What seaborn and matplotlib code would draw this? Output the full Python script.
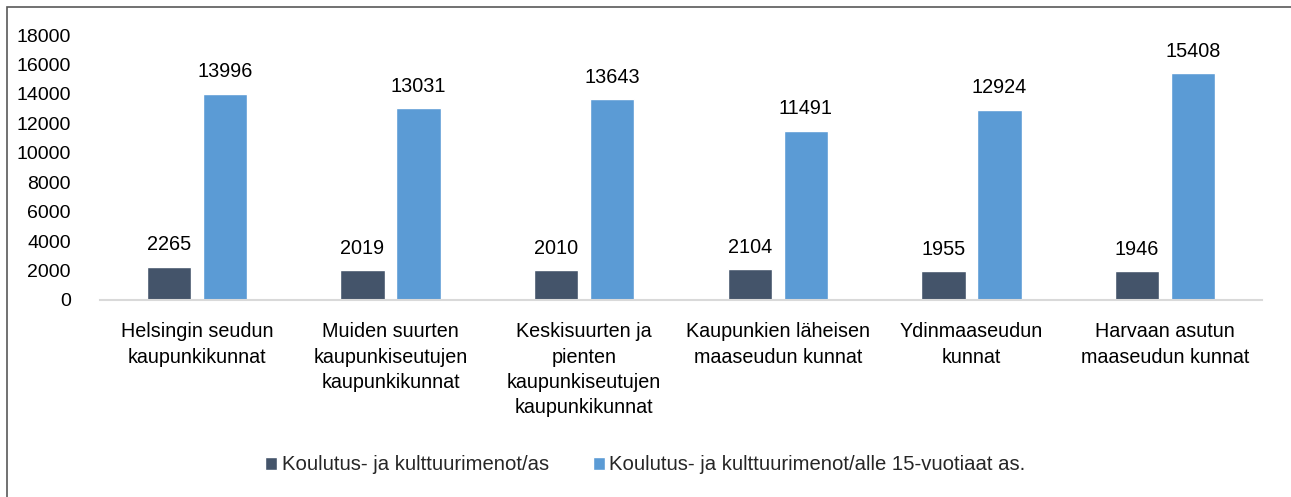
import matplotlib
matplotlib.use("Agg")
import matplotlib.pyplot as plt
import seaborn as sns
import pandas as pd
from matplotlib.patches import Rectangle

categories = [
    "Helsingin seudun\nkaupunkikunnat",
    "Muiden suurten\nkaupunkiseutujen\nkaupunkikunnat",
    "Keskisuurten ja\npienten\nkaupunkiseutujen\nkaupunkikunnat",
    "Kaupunkien läheisen\nmaaseudun kunnat",
    "Ydinmaaseudun\nkunnat",
    "Harvaan asutun\nmaaseudun kunnat",
]
series_names = [
    "Koulutus- ja kulttuurimenot/as",
    "Koulutus- ja kulttuurimenot/alle 15-vuotiaat as.",
]
values_as = [2265, 2019, 2010, 2104, 1955, 1946]
values_u15 = [13996, 13031, 13643, 11491, 12924, 15408]
yticks = [0, 2000, 4000, 6000, 8000, 10000, 12000, 14000, 16000, 18000]

df = pd.DataFrame({
    "cat": categories * 2,
    "series": [series_names[0]] * 6 + [series_names[1]] * 6,
    "value": values_as + values_u15,
})

sns.set_theme(style="white")
plt.rcParams["font.family"] = ["Liberation Sans", "DejaVu Sans"]

W, H = 1291, 497
fig = plt.figure(figsize=(W / 100, H / 100), dpi=100)
ax = fig.add_axes([100 / W, 1 - 300 / H, 1162 / W, 265 / H])

sns.barplot(data=df, x="cat", y="value", hue="series",
            palette=["#44546A", "#5B9BD5"], saturation=1, width=0.58, gap=0.21,
            ax=ax, legend=True)

for cont in ax.containers:
    ax.bar_label(cont, fmt="%d", padding=9, fontsize=14.3, color="#000000")

ax.set_ylim(0, 18000)
ax.set_yticks(yticks)
ax.set_yticklabels([str(t) for t in yticks], fontsize=14, color="#000000")
ax.set_xlim(-0.5, 5.5)
ax.tick_params(axis="x", labelsize=14.2, colors="#000000", pad=16, length=0)
ax.tick_params(axis="y", pad=21, length=0)
for lbl in ax.get_xticklabels():
    lbl.set_linespacing(1.42)
ax.set_xlabel("")
ax.set_ylabel("")
for s in ["top", "right", "left"]:
    ax.spines[s].set_visible(False)
ax.spines["bottom"].set_color("#D9D9D9")
ax.spines["bottom"].set_linewidth(1.5)
ax.grid(False)

handles, labels = ax.get_legend_handles_labels()
ax.legend_.remove()
fig.legend(handles, labels, loc="center", bbox_to_anchor=(0.5, 1 - 465 / H),
           ncol=2, frameon=False, fontsize=14.6, handlelength=0.6, handleheight=0.6,
           handletextpad=0.2, columnspacing=2.2)

fig.add_artist(Rectangle((7 / W, -0.1), 1.2, 1 - 7 / H + 0.1,
                         transform=fig.transFigure, fill=False,
                         edgecolor="#595959", linewidth=1.2))

fig.savefig("out.png", dpi=100)
